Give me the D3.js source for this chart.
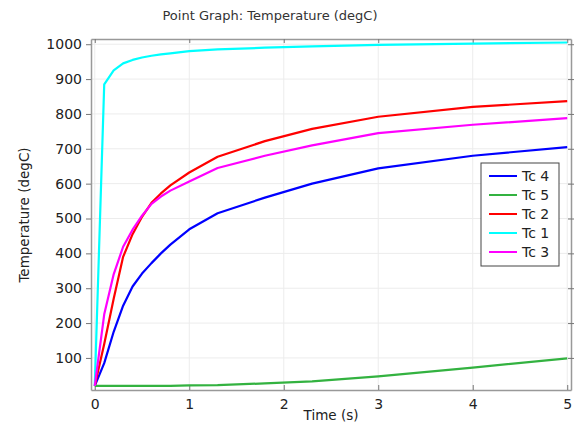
<!DOCTYPE html>
<html>
<head>
<meta charset="utf-8">
<script src="https://cdn.jsdelivr.net/npm/d3@7"></script>
<style>
  body { margin: 0; background: #fff; }
  svg { display: block; font-family: "DejaVu Sans", sans-serif; }
</style>
</head>
<body>
<svg id="chart" width="577" height="426"></svg>
<script>
// Time points (s)
const times = [0, 0.1, 0.2, 0.3, 0.4, 0.5, 0.6, 0.7, 0.8, 1.0, 1.3, 1.8, 2.3, 3.0, 4.0, 5.0];

// Temperatures (degC) per probe
const tc4 = [20, 85, 175, 250, 305, 342, 372, 400, 425, 469, 515, 560, 600, 644, 680, 705];
const tc5 = [20, 20, 20, 20, 20, 20, 20, 20, 20, 21, 22, 27, 33, 47, 72, 99];
const tc2 = [20, 140, 270, 390, 455, 505, 545, 572, 595, 632, 677, 722, 757, 792, 820, 837];
const tc1 = [20, 885, 925, 945, 955, 962, 967, 971, 974, 980, 985, 990, 994, 998, 1002, 1005];
const tc3 = [20, 225, 340, 419, 468, 508, 542, 563, 580, 606, 645, 680, 710, 745, 769, 788];

const seriesNames = ['Tc 4', 'Tc 5', 'Tc 2', 'Tc 1', 'Tc 3'];
const seriesValues = [tc4, tc5, tc2, tc1, tc3];
const seriesColors = ['#0000ff', '#33b240', '#ff0000', '#00ffff', '#ff00ff'];

const xTicks = [0, 1, 2, 3, 4, 5];
const yTicks = [100, 200, 300, 400, 500, 600, 700, 800, 900, 1000];

const svg = d3.select('#chart');
const plot = { left: 91, right: 571, top: 39, bottom: 390 };

const x = d3.scaleLinear().domain([-0.04, 5.04]).range([plot.left, plot.right]);
const y = d3.scaleLinear().domain([8, 1015]).range([plot.bottom, plot.top]);

// Title
svg.append('text')
  .attr('x', 270).attr('y', 20)
  .attr('text-anchor', 'middle')
  .attr('font-size', 13)
  .attr('fill', '#333')
  .text('Point Graph: Temperature (degC)');

// Gridlines
const grid = svg.append('g').attr('stroke', '#ececec').attr('stroke-width', 1);
grid.selectAll('line.gx')
  .data(xTicks)
  .join('line')
  .attr('class', 'gx')
  .attr('x1', d => x(d)).attr('x2', d => x(d))
  .attr('y1', plot.top).attr('y2', plot.bottom);
grid.selectAll('line.gy')
  .data(yTicks)
  .join('line')
  .attr('class', 'gy')
  .attr('x1', plot.left).attr('x2', plot.right)
  .attr('y1', d => y(d)).attr('y2', d => y(d));

// Axes
const axisColor = '#999';
const bottomAxis = svg.append('g')
  .attr('transform', `translate(0,${plot.bottom})`)
  .call(d3.axisBottom(x).tickValues(xTicks).tickFormat(d3.format('d'))
    .tickSize(-5).tickPadding(9).tickSizeOuter(0));
const leftAxis = svg.append('g')
  .attr('transform', `translate(${plot.left},0)`)
  .call(d3.axisLeft(y).tickValues(yTicks).tickFormat(d3.format('d'))
    .tickSize(5).tickPadding(4).tickSizeOuter(0));
const topAxis = svg.append('g')
  .attr('transform', `translate(0,${plot.top})`)
  .call(d3.axisTop(x).tickValues(xTicks).tickSize(-4).tickFormat('').tickSizeOuter(0));
const rightAxis = svg.append('g')
  .attr('transform', `translate(${plot.right},0)`)
  .call(d3.axisRight(y).tickValues(yTicks).tickSize(3).tickFormat('').tickSizeOuter(0));
rightAxis.selectAll('.tick line').attr('x1', -3);

[bottomAxis, leftAxis, topAxis, rightAxis].forEach(a => {
  a.select('.domain').attr('stroke', axisColor).attr('stroke-width', 1.5);
  a.selectAll('.tick line').attr('stroke', '#777');
  a.selectAll('.tick text')
    .attr('font-family', '"DejaVu Sans", sans-serif')
    .attr('font-size', 14)
    .attr('fill', '#222');
});

// Axis titles
svg.append('text')
  .attr('x', 331).attr('y', 420)
  .attr('text-anchor', 'middle')
  .attr('font-size', 13.5)
  .attr('fill', '#222')
  .text('Time (s)');

svg.append('text')
  .attr('transform', 'translate(29,215) rotate(-90)')
  .attr('text-anchor', 'middle')
  .attr('font-size', 13.5)
  .attr('fill', '#222')
  .text('Temperature (degC)');

// Series lines
const line = d3.line()
  .x((d, i) => x(times[i]))
  .y(d => y(d));

svg.append('g')
  .attr('fill', 'none')
  .attr('stroke-width', 2.2)
  .attr('stroke-linejoin', 'round')
  .selectAll('path')
  .data(seriesValues)
  .join('path')
  .attr('stroke', (d, i) => seriesColors[i])
  .attr('d', line);

// Legend
const legend = svg.append('g').attr('transform', 'translate(481,163)');
legend.append('rect')
  .attr('width', 78).attr('height', 103)
  .attr('fill', '#fff')
  .attr('stroke', '#444')
  .attr('stroke-width', 1);

const rows = legend.selectAll('g.row')
  .data(seriesNames)
  .join('g')
  .attr('class', 'row')
  .attr('transform', (d, i) => `translate(0,${13 + i * 19})`);

rows.append('line')
  .attr('x1', 8).attr('x2', 36)
  .attr('stroke', (d, i) => seriesColors[i])
  .attr('stroke-width', 2);

rows.append('text')
  .attr('x', 41).attr('y', 5)
  .attr('font-size', 14)
  .attr('fill', '#222')
  .text(d => d);
</script>
</body>
</html>
